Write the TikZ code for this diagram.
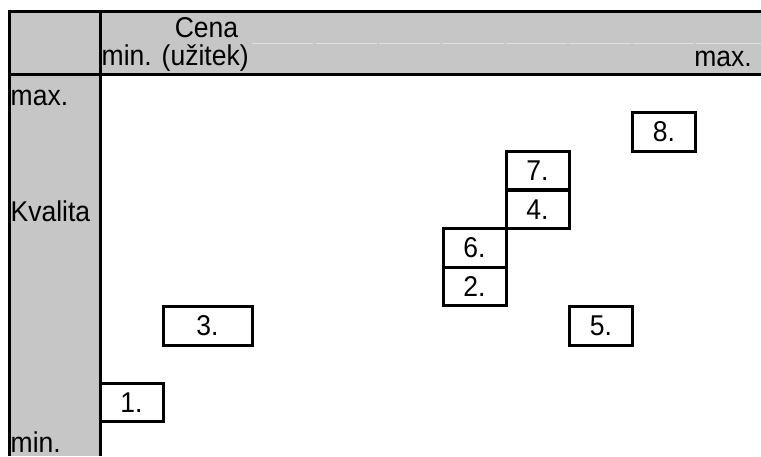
\documentclass[tikz,border=0pt]{standalone}
\usepackage{fontspec}
\setmainfont{Liberation Sans}
\definecolor{hdrgray}{HTML}{C6C6C6}
\definecolor{gridfaint}{HTML}{E0E0E0}
\newcommand{\talltxt}[1]{\scalebox{1}[1.08]{#1}}
\begin{document}
\begin{tikzpicture}[x=1pt,y=-1pt,
  frame/.style={line width=3pt, black},
  lbl/.style={inner sep=0pt, font=\fontsize{26.5}{30}\selectfont},
  numbox/.style={draw, line width=3pt, inner sep=0pt, minimum width=63pt, minimum height=38.5pt, font=\fontsize{26.5}{30}\selectfont},
  faint/.style={line width=1pt, gridfaint}]
\useasboundingbox (0,0) rectangle (761,456);
% gray header and left column
\fill[hdrgray] (8,11) rectangle (761,74);
\fill[hdrgray] (8,11) rectangle (100,456);
% faint cell gridlines in header
\foreach \a/\b in {252/313,316/377,379/440,442/504,506/567,569/631,633/694,696/761}
  \draw[faint] (\a,43) -- (\b,43);
% frame lines
\draw[frame] (8,11) -- (761,11);
\draw[frame] (8,74) -- (761,74);
\draw[frame] (9.5,9.5) -- (9.5,456);
\draw[frame] (100,9.5) -- (100,456);
% labels
\node[lbl, anchor=base] (cena) at (206.5,37) {\talltxt{Cena}};
\node[lbl, anchor=base west] (xmin) at (101.5,65) {\talltxt{min.\hspace{10pt}(užitek)}};
\node[lbl, anchor=base east] (xmax) at (752,66) {\talltxt{max.}};
\node[lbl, anchor=base west] (ymax) at (10.5,105) {\talltxt{max.}};
\node[lbl, anchor=base west] (kval) at (10.5,221) {\talltxt{Kvalita}};
\node[lbl, anchor=base west] (ymin) at (10.5,452) {\talltxt{min.}};
% numbered boxes
\node[numbox] (b8) at (664,132) {\talltxt{8.}};
\node[numbox] (b7) at (537.5,170.5) {\talltxt{7.}};
\node[numbox] (b4) at (537.5,209.5) {\talltxt{4.}};
\node[numbox] (b6) at (474.5,248) {\talltxt{6.}};
\node[numbox] (b2) at (474.5,286.5) {\talltxt{2.}};
\node[numbox] (b5) at (601,326) {\talltxt{5.}};
\node[numbox, minimum width=89pt] (b3) at (207.5,326) {\talltxt{3.}};
\node[numbox] (b1) at (131.5,402.5) {\talltxt{1.}};
\end{tikzpicture}
\end{document}
